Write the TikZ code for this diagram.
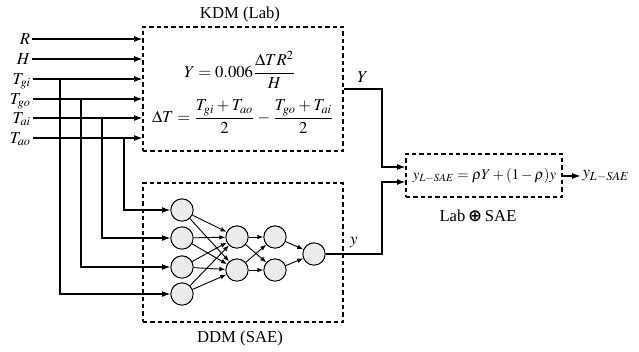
\documentclass[tikz,border=0pt]{standalone}
\usepackage{mathptmx}
\usepackage[no-math]{fontspec}
\setmainfont{Liberation Serif}
\newfontfamily\symfont{DejaVu Sans}
\usepackage{amsmath}
\usepackage{tikz}
\usetikzlibrary{positioning,arrows.meta}
\definecolor{cellGray}{HTML}{EBEBEB}

\begin{document}
\begin{tikzpicture}[
    x=0.6pt, y=-0.6pt,
    dashbox/.style={draw, line width=0.75pt, dash pattern=on 2.6pt off 1.8pt, inner sep=0pt},
    neuron/.style={circle, draw, line width=0.6pt, fill=cellGray, minimum size=13.4pt, inner sep=0pt},
    inlabel/.style={anchor=east, inner sep=1pt, text height=9pt, text depth=2.6pt},
    arrow/.style={-{Latex[length=5pt, width=3.6pt]}, line width=0.7pt},
    link/.style={-{Latex[length=3.6pt, width=2.8pt]}, line width=0.55pt}
  ]
  \useasboundingbox (0,0) rectangle (639,351);

  % knowledge-driven part
  \node (kdmT) at (240,14) {KDM (Lab)};
  \node[dashbox, minimum width=120pt, minimum height=74.4pt] (kdm) at (243,89) {};
  \node (eqY) at (240,70) {$Y = 0.006\dfrac{\Delta T R^2}{H}$};
  \node (eqT) at (243,117) {$\Delta T = \dfrac{T_{gi}+T_{ao}}{2} - \dfrac{T_{go}+T_{ai}}{2}$};

  % inputs
  \node[inlabel] (R)   at (32,39)  {$R$};
  \node[inlabel] (H)   at (32,59)  {$H$};
  \node[inlabel] (Tgi) at (33,79)  {$T_{gi}$};
  \node[inlabel] (Tgo) at (33,99)  {$T_{go}$};
  \node[inlabel] (Tai) at (33,118) {$T_{ai}$};
  \node[inlabel] (Tao) at (33,138) {$T_{ao}$};
  \foreach \n in {R,H,Tgi,Tgo,Tai,Tao}
    \draw[arrow] (\n.east) -- (\n.east -| kdm.west);

  % data-driven part
  \node[dashbox, minimum width=120pt, minimum height=83.4pt] (ddm) at (243,252.5) {};
  \node (ddmT) at (240,338) {DDM (SAE)};
  \foreach \i/\y in {1/210,2/238,3/267,4/294}
    \node[neuron] (a\i) at (182,\y) {};
  \node[neuron] (b1) at (237,237) {};
  \node[neuron] (b2) at (237,270) {};
  \node[neuron] (c1) at (275,237) {};
  \node[neuron] (c2) at (275,270) {};
  \node[neuron] (out) at (314,254) {};
  \foreach \i in {1,...,4}
    \foreach \j in {1,2}
      \draw[link] (a\i) -- (b\j);
  \foreach \i in {1,2}
    \foreach \j in {1,2}
      \draw[link] (b\i) -- (c\j);
  \foreach \i in {1,2}
    \draw[link] (c\i) -- (out);

  \foreach \src/\x/\dst in {Tgi/60/a4, Tgo/81/a3, Tai/102/a2, Tao/124/a1}
    \draw[arrow] (\src.east -| \x,0) |- (\dst);

  % fusion
  \node[dashbox, minimum width=93.6pt, minimum height=25.8pt] (fus) at (484,175.5) {};
  \node[scale=0.88] (eqF) at (484.5,176) {$y_{L-SAE} = \rho Y + (1-\rho)y$};
  \node (fusT) at (478,216) {Lab\,{\symfont\bfseries ⊕}\,SAE};
  \node[inner sep=1pt] (res) at (606,176) {$y_{L-SAE}$};

  \coordinate (jY) at (382,167);
  \coordinate (jy) at (382,182);
  \draw[arrow] (kdm.east) -| node[pos=0.25, above] (Ylab) {$Y$} (jY) -- (jY -| fus.west);
  \draw[arrow] (out) -| node[pos=0.25, above] (ylab) {$y$} (jy) -- (jy -| fus.west);
  \draw[arrow] (fus.east |- res) -- (res.west);
\end{tikzpicture}
\end{document}
